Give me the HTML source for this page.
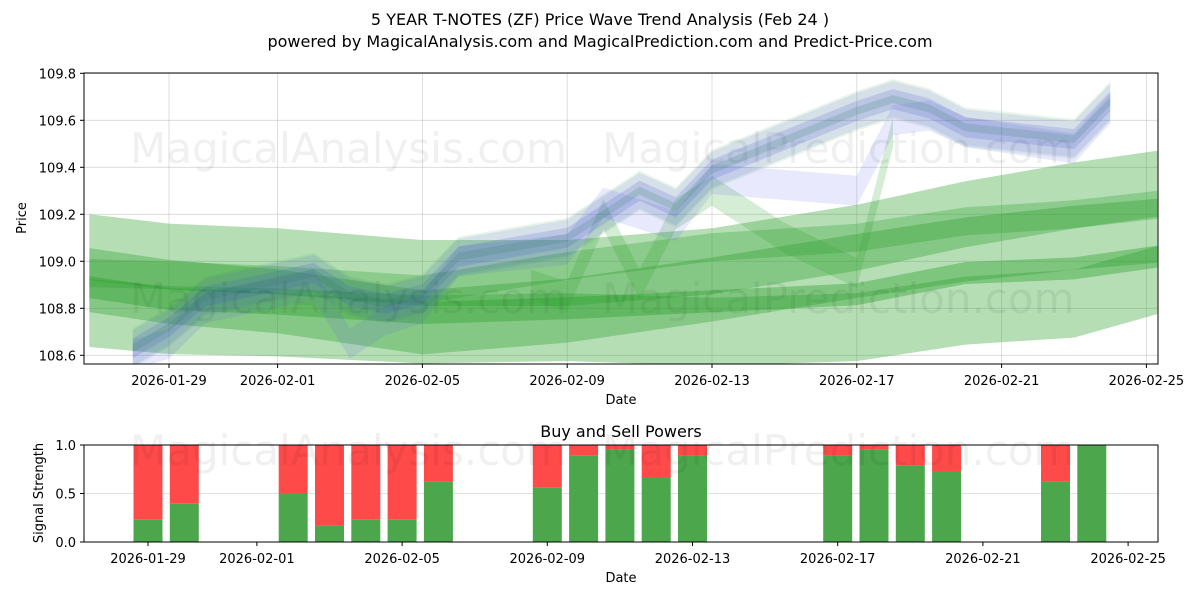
<!DOCTYPE html>
<html><head><meta charset="utf-8"><style>
body{margin:0;background:#fff;}
svg{display:block;font-family:"DejaVu Sans","Liberation Sans",sans-serif;}
</style></head><body>
<svg id="chart" width="1200" height="600" viewBox="0 0 1200 600" xmlns="http://www.w3.org/2000/svg">
<defs>
<clipPath id="topclip"><rect x="84" y="73" width="1074" height="291"/></clipPath>
<clipPath id="botclip"><rect x="84" y="445" width="1074" height="97"/></clipPath>
</defs>
<rect width="1200" height="600" fill="#fff"/>
<text x="600" y="25" text-anchor="middle" font-size="16">5 YEAR T-NOTES (ZF) Price Wave Trend Analysis (Feb 24 )</text>
<text x="600" y="47" text-anchor="middle" font-size="16">powered by MagicalAnalysis.com and MagicalPrediction.com and Predict-Price.com</text>
<g id="topgrid"></g>
<g id="topmarks" clip-path="url(#topclip)"></g>
<g font-size="42" fill="#000" fill-opacity="0.06">
<text x="130" y="163">MagicalAnalysis.com</text><text x="602" y="163">MagicalPrediction.com</text>
<text x="130" y="313">MagicalAnalysis.com</text><text x="602" y="313">MagicalPrediction.com</text>
</g>
<rect x="84" y="73" width="1074" height="291" fill="none" stroke="#000" stroke-width="1"/>
<g id="topaxes"></g>
<text transform="translate(26,218) rotate(-90)" text-anchor="middle" font-size="13">Price</text>
<text x="621" y="404" text-anchor="middle" font-size="13">Date</text>

<text x="621" y="437" text-anchor="middle" font-size="16">Buy and Sell Powers</text>
<g id="botgrid"></g>
<g id="botmarks" clip-path="url(#botclip)"></g>
<g font-size="42" fill="#000" fill-opacity="0.06">
<text x="130" y="465">MagicalAnalysis.com</text><text x="602" y="465">MagicalPrediction.com</text>
</g>
<rect x="84" y="445" width="1074" height="97" fill="none" stroke="#000" stroke-width="1"/>
<g id="botaxes"></g>
<text transform="translate(43,493) rotate(-90)" text-anchor="middle" font-size="13">Signal Strength</text>
<text x="621" y="582" text-anchor="middle" font-size="13">Date</text>
</svg>
<script>
// ---- data (days relative to 2026-01-29) ----
const tickDays = [0, 3, 7, 11, 15, 19, 23, 27];
const tickLabels = ["2026-01-29","2026-02-01","2026-02-05","2026-02-09","2026-02-13","2026-02-17","2026-02-21","2026-02-25"];
const priceTicks = [108.6, 108.8, 109.0, 109.2, 109.4, 109.6, 109.8];
const priceTickLabels = ["108.6","108.8","109.0","109.2","109.4","109.6","109.8"];
const tradeDays = [-1,0,1,4,5,6,7,8,11,12,13,14,15,19,20,21,22,25,26];
const bluePrice = [108.63,108.72,108.85,108.95,108.85,108.82,108.86,109.02,109.1,109.2,109.3,109.23,109.39,109.64,109.69,109.65,109.57,109.52,109.68];
const bluePriceAlt = [108.6,108.65,108.8,108.9,108.65,108.75,108.8,109.0,109.05,109.25,109.2,109.15,109.35,109.3,109.6,109.62,109.55,109.48,109.65];
const bandDays = [-2.2,0,3,7,11,15,19,22,25,27.3];
const band1 = [109.06,109.02,109.0,108.95,108.95,109.0,109.1,109.2,109.28,109.33];
const band2 = [108.92,108.87,108.83,108.74,108.79,108.88,108.98,109.05,109.1,109.13];
const band3 = [108.78,108.75,108.74,108.71,108.72,108.7,108.72,108.79,108.82,108.92];
const band4 = [108.89,108.84,108.82,108.78,108.8,108.83,108.86,108.95,108.97,109.02];
const band5 = [108.95,108.94,108.92,108.88,108.98,109.06,109.1,109.17,109.2,109.24];
const zigDays = [10,11,12,13,14,15,17,19,20];
const zigPrice = [108.9,108.85,109.2,108.9,109.2,109.3,109.1,108.95,109.55];
const signalDays = [0,1,4,5,6,7,8,11,12,13,14,15,19,20,21,22,25,26];
const buyPower = [0.23,0.40,0.505,0.166,0.23,0.23,0.62,0.56,0.89,0.955,0.67,0.896,0.896,0.955,0.79,0.727,0.62,1.0];
const signalTicks = [0, 0.5, 1.0];
const signalTickLabels = ["0.0","0.5","1.0"];

// ---- axes ----
const xTop = d => 169 + 36.2 * d;
const yTop = p => 355.3 - (p - 108.6) * 235;
const xBot = d => 148 + 36.3 * d;
const yBot = v => 542 - v * 97;
const NS = "http://www.w3.org/2000/svg";
function mk(tag, attrs, parent) {
  const e = document.createElementNS(NS, tag);
  for (const k in attrs) e.setAttribute(k, attrs[k]);
  parent.appendChild(e);
  return e;
}
const tg = document.getElementById('topgrid'), tm = document.getElementById('topmarks'), ta = document.getElementById('topaxes');
const bg = document.getElementById('botgrid'), bm = document.getElementById('botmarks'), ba = document.getElementById('botaxes');

tickDays.forEach((d, i) => {
  const x = xTop(d);
  if (x < 1158) {
    const g = mk('line', {x1: x, x2: x, y1: 73, y2: 364, stroke: '#b0b0b0', 'stroke-opacity': 0.5, 'stroke-width': 0.8}, tg);
    
    
  }
  const t = mk('line', {x1: x, x2: x, y1: 364, y2: 368, stroke: '#000'}, ta);
  
  
  const l = mk('text', {x: x, y: 385, 'text-anchor': 'middle', 'font-size': 13}, ta);
  l.textContent = tickLabels[i];
  
  
  const xb = xBot(d);
  const t2 = mk('line', {x1: xb, x2: xb, y1: 542, y2: 546, stroke: '#000'}, ba);
  
  
  const l2 = mk('text', {x: xb, y: 563, 'text-anchor': 'middle', 'font-size': 13}, ba);
  l2.textContent = tickLabels[i];
  
  
});
priceTicks.forEach((p, i) => {
  const y = yTop(p);
  const g = mk('line', {x1: 84, x2: 1158, y1: y, y2: y, stroke: '#b0b0b0', 'stroke-opacity': 0.5, 'stroke-width': 0.8}, tg);
  
  
  const t = mk('line', {x1: 80, x2: 84, y1: y, y2: y, stroke: '#000'}, ta);
  
  
  const l = mk('text', {x: 76, y: y + 5, 'text-anchor': 'end', 'font-size': 13}, ta);
  l.textContent = priceTickLabels[i];
  
  
});
signalTicks.forEach((v, i) => {
  const y = yBot(v);
  const g = mk('line', {x1: 84, x2: 1158, y1: y, y2: y, stroke: '#b0b0b0', 'stroke-opacity': 0.5, 'stroke-width': 0.8}, bg);
  
  
  const t = mk('line', {x1: 80, x2: 84, y1: y, y2: y, stroke: '#000'}, ba);
  
  
  const l = mk('text', {x: 76, y: y + 5, 'text-anchor': 'end', 'font-size': 13}, ba);
  l.textContent = signalTickLabels[i];
  
  
});

// band polygon with vertical thickness h (pixels)
function band(days, vals, h, color, op, name) {
  const up = days.map((d, i) => xTop(d) + ',' + (yTop(vals[i]) - h / 2));
  const lo = days.map((d, i) => xTop(d) + ',' + (yTop(vals[i]) + h / 2)).reverse();
  const e = mk('polygon', {points: up.concat(lo).join(' '), fill: color, 'fill-opacity': op}, tm);
  
  
}
band(bandDays, band1, 66, '#2ca02c', 0.35, 'forecast-band-upper');
band(bandDays, band3, 68, '#2ca02c', 0.35, 'forecast-band-lower');
band(bandDays, band2, 64, '#2ca02c', 0.35, 'forecast-band-middle');
band(bandDays, band5, 28, '#2ca02c', 0.3, 'forecast-band-upper-core');
band(bandDays, band4, 22, '#2ca02c', 0.4, 'forecast-band-core');
band(zigDays, zigPrice, 30, '#2ca02c', 0.2, 'forecast-wave-band');
band(tradeDays, bluePrice, 40, '#2ca02c', 0.1, 'price-wave-green-shadow');
band(tradeDays, bluePriceAlt, 30, '#5555ee', 0.13, 'price-wave-blue-alt');
band(tradeDays, bluePrice, 36, '#5555ee', 0.13, 'price-wave-blue-outer');
band(tradeDays, bluePrice, 20, '#4455cc', 0.18, 'price-wave-blue-inner');
band(tradeDays, bluePrice, 8, '#2c7a5c', 0.18, 'price-wave-core');

// signal bars
signalDays.forEach((d, i) => {
  const x = xBot(d) - 14.5, w = 29;
  const r = mk('rect', {x: x, y: yBot(1), width: w, height: yBot(buyPower[i]) - yBot(1), fill: '#ff4a4a'}, bm);
  
  
  const g = mk('rect', {x: x, y: yBot(buyPower[i]), width: w, height: yBot(0) - yBot(buyPower[i]), fill: '#4ca64c'}, bm);
  
  
});
</script>
</body></html>
